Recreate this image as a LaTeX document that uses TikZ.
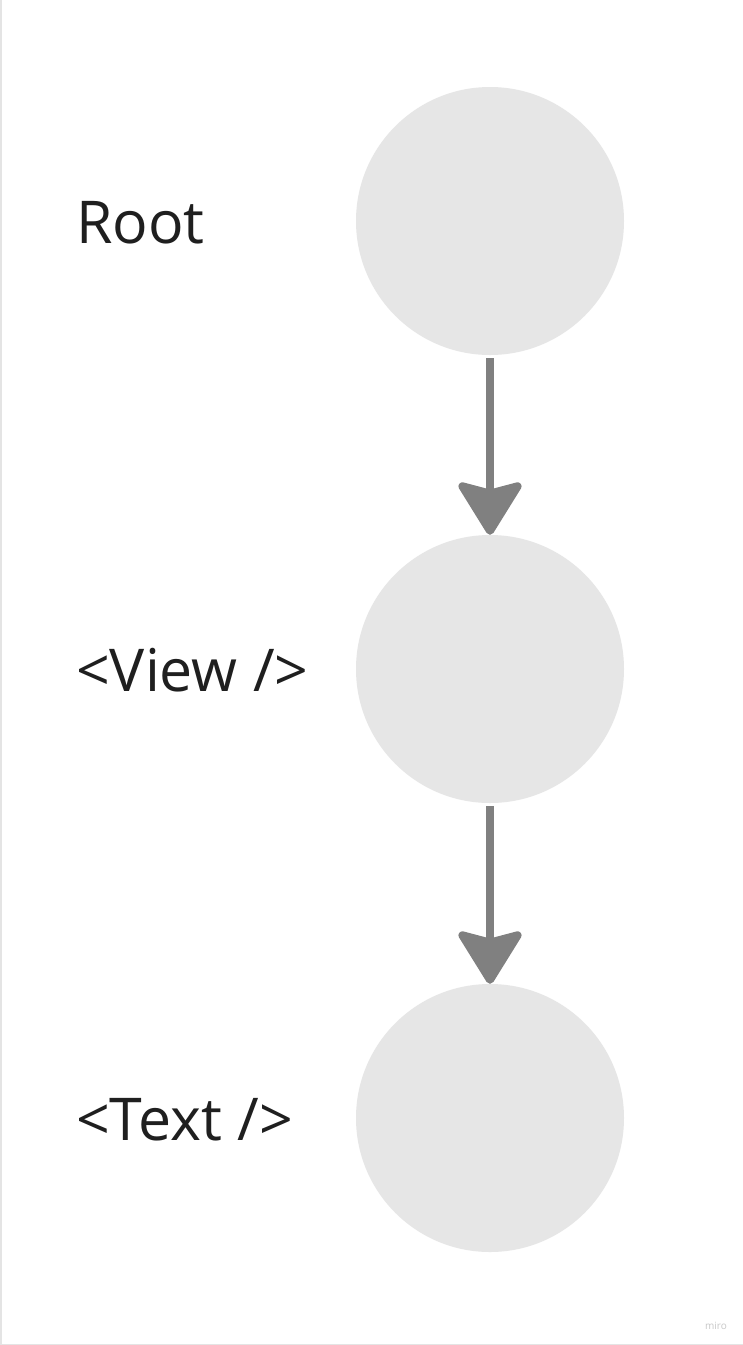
\documentclass[tikz,border=0pt]{standalone}
\usepackage{fontspec}
\setmainfont{Open Sans}
\usetikzlibrary{arrows.meta}
\definecolor{circfill}{HTML}{E6E6E6}
\definecolor{arrowgray}{HTML}{808080}
\definecolor{textdark}{HTML}{1F1F1F}
\definecolor{bordergray}{HTML}{E4E4E4}
\definecolor{mirogray}{HTML}{C8C8C8}
\tikzset{
  statecircle/.style={circle, fill=circfill, minimum size=268pt, inner sep=0pt},
  label text/.style={anchor=base west, inner sep=0pt, text=textdark, font=\fontsize{59}{70}\selectfont},
  flow/.style={draw=arrowgray, line width=8pt, shorten <=3pt,
    -{Stealth[length=58pt, width=71pt, inset=9pt, round]}},
}
\begin{document}
\begin{tikzpicture}[x=1pt, y=-1pt]
\useasboundingbox (0,0) rectangle (743,1345);
\fill[white] (0,0) rectangle (743,1345);
\draw[bordergray, line width=1.5pt] (0.75,0) -- (0.75,1344.25) -- (743,1344.25);
\node[statecircle] (c1) at (490,221) {};
\node[statecircle] (c2) at (490,669) {};
\node[statecircle] (c3) at (490,1118) {};
\node[label text] (t1) at (76,243) {Root};
\node[label text] (t2) at (76,691) {<View />};
\node[label text] (t3) at (76,1140) {<Text />};
\draw[flow] (c1.south) -- (c2.north);
\draw[flow] (c2.south) -- (c3.north);
\node[anchor=base east, inner sep=0pt, text=mirogray, font=\fontsize{10}{12}\selectfont] (miro) at (727,1329) {miro};
\end{tikzpicture}
\end{document}
